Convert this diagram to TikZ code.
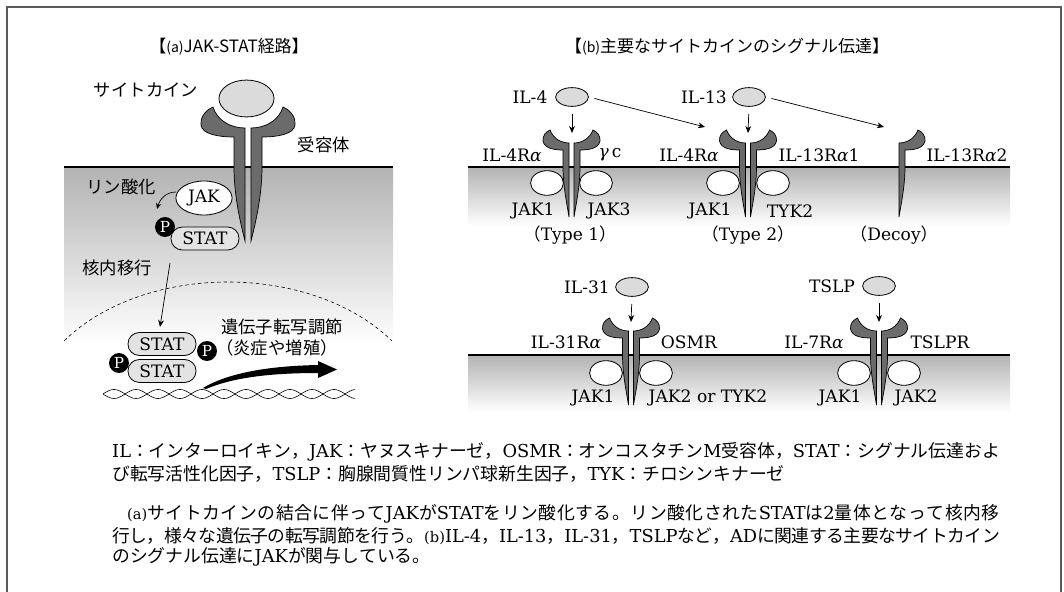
\documentclass[tikz,border=0pt]{standalone}
\usepackage{fontspec}
\setmainfont{DejaVu Serif}
\newfontfamily\jpfont{Noto Sans CJK JP}
\usetikzlibrary{arrows.meta,shapes.geometric}

% Japanese characters switch to the CJK family on their own
\XeTeXinterchartokenstate=1
\newXeTeXintercharclass\jpclass
\newcount\jpcnt
\newcommand\jprange[2]{\jpcnt=#1\relax
  \loop\XeTeXcharclass\jpcnt=\jpclass\relax
  \ifnum\jpcnt<#2\relax\advance\jpcnt by 1\relax\repeat}
\jprange{"3000}{"30FF}
\jprange{"4E00}{"9FFF}
\jprange{"FF00}{"FFEF}
\XeTeXinterchartoks 0 \jpclass={\jpfont}
\XeTeXinterchartoks 4095 \jpclass={\jpfont}
\XeTeXinterchartoks \jpclass 0={\rmfamily}
\XeTeXinterchartoks \jpclass 4095={\rmfamily}
\XeTeXinterchartoks \jpclass \jpclass={\hskip0pt plus 2pt minus 1pt\relax}

\newcommand\galpha{\textit{α}}
\newcommand\ggamma{\textit{γ}}

\tikzset{
  frame/.style={draw=black!65, line width=1.4pt},
  lab/.style={font=\fontsize{14.6}{17}\selectfont, inner sep=0pt},
  jlab/.style={font=\fontsize{14.8}{17}\selectfont, inner sep=0pt},
  ttl/.style={font=\fontsize{14.5}{17}\selectfont, inner sep=0pt},
  legendline/.style={font=\fontsize{15.2}{18}\selectfont, inner sep=0pt, anchor=west},
  cyto/.style={ellipse, draw, fill=gray!28, line width=0.7pt, inner sep=0pt,
    minimum width=28pt, minimum height=16pt},
  bigcyto/.style={cyto, minimum width=47pt, minimum height=31.5pt},
  jak/.style={ellipse, draw, fill=white, line width=0.7pt, inner sep=0pt,
    minimum width=28pt, minimum height=21pt},
  bigjak/.style={jak, minimum width=48pt, minimum height=29pt,
    font=\fontsize{14.6}{17}\selectfont},
  stat/.style={rectangle, rounded corners=9.5pt, draw, fill=gray!22, line width=0.7pt,
    inner sep=0pt, minimum width=58pt, minimum height=19.5pt,
    font=\fontsize{14.6}{17}\selectfont},
  phos/.style={circle, fill=black, text=white, inner sep=0pt, minimum size=17pt,
    font=\fontsize{13}{15}\selectfont},
  arr/.style={-{Stealth[length=6pt,width=5pt]}, line width=0.6pt},
  rec/.style={fill=black!58, draw=black, line width=0.6pt},
  % one chain of a receptor dimer (left side; mirrored for the right)
  pics/rhalf/.style={code={
    \draw[rec] (-2.5,-24) .. controls (-10,-24) and (-18,-28) .. (-21.5,-37)
      .. controls (-26,-35) and (-29,-31) .. (-28.5,-26)
      .. controls (-27,-18) and (-16,-17) .. (-8.5,-17)
      -- (-8.5,0) .. controls (-8.5,20) and (-4,40) .. (-2.5,50) -- cycle;
  }},
  pics/rpair/.style={code={
    \pic {rhalf};
    \pic[xscale=-1] {rhalf};
  }},
  pics/bighalf/.style={code={
    \draw[rec] (-3,-39) .. controls (-18,-39) and (-31,-47) .. (-35,-60)
      .. controls (-44,-56) and (-48,-48) .. (-47,-42)
      .. controls (-46,-33) and (-30,-30) .. (-14,-30)
      -- (-14,0) .. controls (-14,30) and (-7,58) .. (-3,74) -- cycle;
  }},
}

\begin{document}
\begin{tikzpicture}[x=0.03cm,y=-0.03cm]
\useasboundingbox (0,0) rectangle (1064,592);
\fill[white] (0,0) rectangle (1064,592);

% outer frame, open at the bottom
\draw[frame] (7,592) -- (7,7) -- (1061,7) -- (1061,592);

% ---------- titles ----------
\node[ttl] (ta) at (229,47) {\XeTeXinterchartokenstate=0 \jpfont【{\fontsize{12}{12}\selectfont(a)}JAK-STAT経路】};
\node[ttl] (tb) at (727,47) {\XeTeXinterchartokenstate=0 \jpfont【{\fontsize{12}{12}\selectfont(b)}主要なサイトカインのシグナル伝達】};

% ---------- cell membranes and cytoplasm ----------
\shade[top color=gray!60, bottom color=white] (64,167) rectangle (393,345);
\shade[top color=gray!60, bottom color=white] (468,167) rectangle (1010,226);
\shade[top color=gray!60, bottom color=white] (468,355) rectangle (1010,412);
\draw[line width=0.9pt] (64,167) -- (393,167);
\draw[line width=0.9pt] (468,167) -- (1010,167);
\draw[line width=0.9pt] (468,355) -- (1010,355);

% nuclear envelope
\draw[line width=0.5pt, dash pattern=on 3pt off 2.5pt]
  plot[domain=145:35, samples=60, smooth] ({228+200*cos(\x)}, {420-138*sin(\x)});

% DNA double strand
\draw[line width=0.5pt] plot[domain=103:355, samples=160, smooth] (\x, {394+4.5*sin(8.1818*(\x-103))});
\draw[line width=0.5pt] plot[domain=103:355, samples=160, smooth] (\x, {394-4.5*sin(8.1818*(\x-103))});

% ---------- (a) JAK-STAT pathway ----------
\pic at (248,167) {bighalf};
\pic[xscale=-1] at (248,167) {bighalf};
\node[bigcyto] (cyA) at (246.5,98.5) {};
\node[jlab] (lcy) at (146,90) {サイトカイン};
\node[jlab] (lrc) at (324,145) {受容体};

\node[bigjak] (jakA) at (204,198) {JAK};
\node[stat] (s1) at (205,238.5) {STAT};
\node[phos] (p1) at (165,227) {P};
\node[jlab] (lpo) at (121,187) {リン酸化};
\coordinate (pa1) at (176,192);
\coordinate (pa2) at (157,209);
\draw[-{Stealth[length=5pt,width=4.5pt]}, line width=0.6pt] (pa1) .. controls (166,192) and (160,199) .. (pa2);

\node[jlab] (lnt) at (117,268) {核内移行};
\coordinate (na1) at (170,263);
\coordinate (na2) at (160,327);
\draw[arr] (na1) -- (na2);

\node[stat] (s2) at (162,344) {STAT};
\node[stat] (s3) at (162,371) {STAT};
\node[phos] (p2) at (207,351) {P};
\node[phos] (p3) at (119,363) {P};

\node[jlab] (ltr) at (282,327) {遺伝子転写調節};
\node[jlab] (lin) at (277,348) {（炎症や増殖）};
\fill (203,388) .. controls (228,373) and (268,366) .. (318,365) -- (318,361)
  -- (337,369.5) -- (318,378) -- (318,373)
  .. controls (268,373) and (232,378) .. (206,389) -- cycle;

% ---------- (b) IL-4 / IL-13 receptors ----------
\pic at (571.5,167) {rpair};
\pic at (748,167) {rpair};
\pic[xscale=-1] at (896.5,167) {rhalf};

\node[cyto] (il4) at (572,97) {};
\node[lab] (lil4) at (530,97) {IL-4};
\node[cyto] (il13) at (749,97) {};
\node[lab] (lil13) at (704,97) {IL-13};

\coordinate (t1) at (572,133);
\coordinate (t2) at (748,133);
\coordinate (t2in) at (705,127);
\coordinate (t3in) at (884,127);
\draw[arr, shorten <=6pt] (il4.south) -- (t1);
\draw[arr, shorten <=6pt] (il13.south) -- (t2);
\draw[arr, shorten <=5pt] (il4.east) -- (t2in);
\draw[arr, shorten <=5pt] (il13.east) -- (t3in);

\node[jak] (j1l) at (547,183) {};
\node[jak] (j1r) at (596,183) {};
\node[jak] (j2l) at (723,183) {};
\node[jak] (j2r) at (773,183) {};

\node[lab] (r1l) at (512,155) {IL-4R\galpha};
\node[lab] (r1r) at (610,155) {\ggamma\,c};
\node[lab] (r2l) at (689,155) {IL-4R\galpha};
\node[lab] (r2r) at (819,155) {IL-13R\galpha 1};
\node[lab] (r3) at (967,155) {IL-13R\galpha 2};
\node[lab] (k1l) at (533,211) {JAK1};
\node[lab] (k1r) at (609,211) {JAK3};
\node[lab] (k2l) at (710,211) {JAK1};
\node[lab] (k2r) at (790,211) {TYK2};
\node[lab] (ty1) at (570,235) {（Type 1）};
\node[lab] (ty2) at (748,235) {（Type 2）};
\node[lab] (ty3) at (894,235) {（Decoy）};

% ---------- (b) IL-31 / TSLP receptors ----------
\pic at (631,355) {rpair};
\pic at (879,355) {rpair};

\node[cyto] (il31) at (632,287) {};
\node[lab] (lil31) at (587,287) {IL-31};
\node[cyto] (tslp) at (879,286) {};
\node[lab] (ltslp) at (832,286) {TSLP};
\coordinate (t4) at (631,322);
\coordinate (t5) at (879,322);
\draw[arr, shorten <=6pt] (il31.south) -- (t4);
\draw[arr, shorten <=6pt] (tslp.south) -- (t5);

\node[jak] (j3l) at (606,373) {};
\node[jak] (j3r) at (656,373) {};
\node[jak] (j4l) at (854,373) {};
\node[jak] (j4r) at (904,373) {};

\node[lab] (r4l) at (566,342) {IL-31R\galpha};
\node[lab] (r4r) at (689,342) {OSMR};
\node[lab] (r5l) at (814,342) {IL-7R\galpha};
\node[lab] (r5r) at (940,342) {TSLPR};
\node[lab] (k3l) at (593,398) {JAK1};
\node[lab] (k3r) at (708,398) {JAK2 or TYK2};
\node[lab] (k4l) at (840,398) {JAK1};
\node[lab] (k4r) at (916,398) {JAK2};

% ---------- legend ----------
\node[legendline] (c1) at (112,452) {\makebox[757.7pt][s]{IL：インターロイキン，JAK：ヤヌスキナーゼ，OSMR：オンコスタチンM受容体，STAT：シグナル伝達およ}};
\node[legendline] (c2) at (112,474) {び転写活性化因子，TSLP：胸腺間質性リンパ球新生因子，TYK：チロシンキナーゼ};
\node[legendline] (c3) at (127,514) {\makebox[744.6pt][s]{{\fontsize{12.5}{13}\selectfont(a)}サイトカインの結合に伴ってJAKがSTATをリン酸化する。リン酸化されたSTATは2量体となって核内移}};
\node[legendline] (c4) at (112,536) {\makebox[757.7pt][s]{行し，様々な遺伝子の転写調節を行う。{\fontsize{12.5}{13}\selectfont(b)}IL-4，IL-13，IL-31，TSLPなど，ADに関連する主要なサイトカイン}};
\node[legendline] (c5) at (112,557) {のシグナル伝達にJAKが関与している。};
\end{tikzpicture}
\end{document}
